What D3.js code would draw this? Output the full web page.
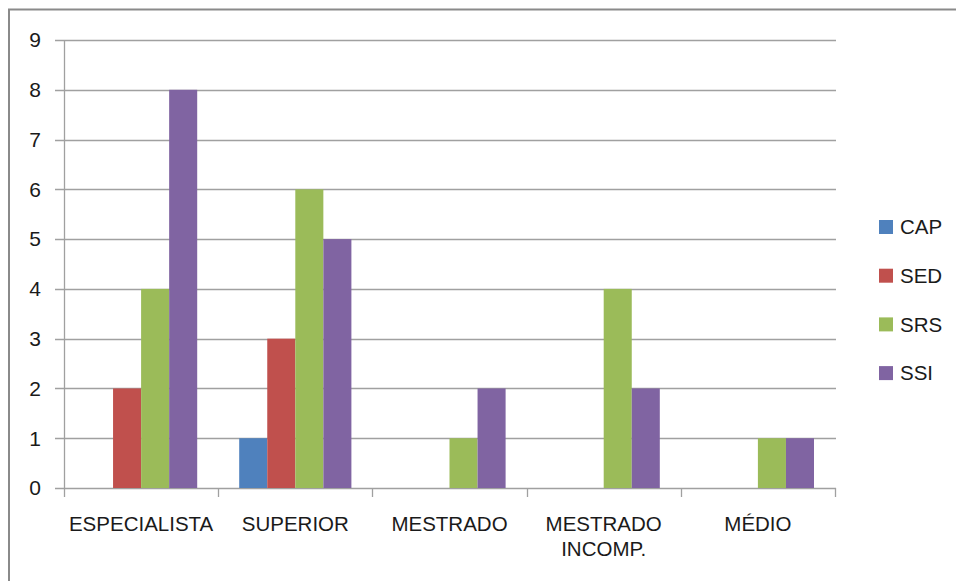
<!DOCTYPE html>
<html>
<head>
<meta charset="utf-8">
<script src="https://cdn.jsdelivr.net/npm/d3@7"></script>
<style>
  body { margin: 0; background: #fff; }
  svg text { font-family: "Liberation Sans", Arial, sans-serif; fill: #1a1a1a; }
</style>
</head>
<body>
<div id="chart"></div>
<script>
// data
const categories = ["ESPECIALISTA", "SUPERIOR", "MESTRADO", "MESTRADO\nINCOMP.", "MÉDIO"];
const seriesNames = ["CAP", "SED", "SRS", "SSI"];
const CAP = [0, 1, 0, 0, 0];
const SED = [2, 3, 0, 0, 0];
const SRS = [4, 6, 1, 4, 1];
const SSI = [8, 5, 2, 2, 1];
const yTicks = [0, 1, 2, 3, 4, 5, 6, 7, 8, 9];
const colors = ["#4F81BD", "#C0504D", "#9BBB59", "#8064A2"];

function draw() {
  const w = 956, h = 581;
  const allSeries = [CAP, SED, SRS, SSI];
  const rows = categories.map((c, i) => ({
    cat: c,
    values: seriesNames.map((s, j) => ({ key: s, value: allSeries[j][i] }))
  }));

  const plot = { left: 64, right: 835, top: 40, bottom: 488 };

  const svg = d3.select("#chart").append("svg")
    .attr("width", w).attr("height", h);

  // outer frame
  svg.append("rect")
    .attr("x", 9).attr("y", 9.5)
    .attr("width", w + 10).attr("height", h + 10)
    .attr("fill", "none").attr("stroke", "#8a8a8a").attr("stroke-width", 2);

  const x0 = d3.scaleBand()
    .domain(categories)
    .range([plot.left, plot.right]);

  const x1 = d3.scaleBand()
    .domain(seriesNames)
    .range([21, x0.bandwidth() - 21]);

  const y = d3.scaleLinear()
    .domain([0, 9])
    .range([plot.bottom, plot.top]);

  // gridlines
  svg.append("g").selectAll("line")
    .data(yTicks)
    .join("line")
    .attr("x1", plot.left - 9).attr("x2", plot.right + 1)
    .attr("y1", d => Math.round(y(d)) + 0.5).attr("y2", d => Math.round(y(d)) + 0.5)
    .attr("stroke", "#a0a0a0").attr("stroke-width", 1.3);

  // y labels
  svg.append("g").selectAll("text")
    .data(yTicks)
    .join("text")
    .attr("x", 41).attr("y", d => y(d))
    .attr("dy", "0.35em")
    .attr("text-anchor", "end")
    .attr("font-size", 21)
    .text(d => d);

  // bars
  const g = svg.append("g").selectAll("g")
    .data(rows)
    .join("g")
    .attr("transform", d => `translate(${x0(d.cat)},0)`);

  g.selectAll("rect")
    .data(d => d.values.filter(v => v.value > 0))
    .join("rect")
    .attr("x", d => x1(d.key))
    .attr("y", d => y(d.value))
    .attr("width", x1.bandwidth())
    .attr("height", d => y(0) - y(d.value))
    .attr("fill", d => colors[seriesNames.indexOf(d.key)]);

  // y axis line
  svg.append("line")
    .attr("x1", plot.left + 0.5).attr("x2", plot.left + 0.5)
    .attr("y1", plot.top).attr("y2", plot.bottom)
    .attr("stroke", "#a0a0a0").attr("stroke-width", 1.3);

  // x axis ticks at category boundaries
  const bounds = categories.map(c => x0(c)).concat([plot.right]);
  svg.append("g").selectAll("line")
    .data(bounds)
    .join("line")
    .attr("x1", d => Math.round(d) + 0.5).attr("x2", d => Math.round(d) + 0.5)
    .attr("y1", plot.bottom).attr("y2", plot.bottom + 9)
    .attr("stroke", "#a0a0a0").attr("stroke-width", 1.3);

  // x labels
  const xl = svg.append("g").selectAll("text")
    .data(categories)
    .join("text")
    .attr("text-anchor", "middle")
    .attr("font-size", 20.5)
    .attr("transform", d => `translate(${x0(d) + x0.bandwidth() / 2},${plot.bottom + 43})`);
  xl.selectAll("tspan")
    .data(d => d.split("\n"))
    .join("tspan")
    .attr("x", 0)
    .attr("y", (d, i) => i * 25)
    .text(d => d);

  // legend
  const lg = svg.append("g").selectAll("g")
    .data(seriesNames)
    .join("g")
    .attr("transform", (d, i) => `translate(879,${227 + i * 48.7})`);
  lg.append("rect")
    .attr("x", 0).attr("y", -7)
    .attr("width", 14).attr("height", 14)
    .attr("fill", (d, i) => colors[i]);
  lg.append("text")
    .attr("x", 21).attr("dy", "0.35em")
    .attr("font-size", 20.5)
    .text(d => d);
}

window.addEventListener("load", draw);
</script>
</body>
</html>
